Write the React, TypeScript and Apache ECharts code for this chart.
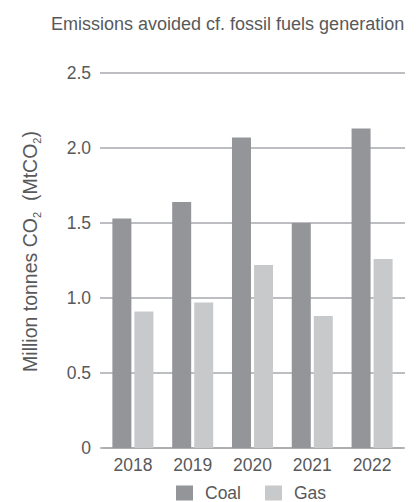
import React, { useEffect, useRef } from "react";
import * as echarts from "echarts";

const years = ["2018", "2019", "2020", "2021", "2022"];
const coal = [1.53, 1.64, 2.07, 1.5, 2.13];
const gas = [0.91, 0.97, 1.22, 0.88, 1.26];
const seriesNames = ["Coal", "Gas"];
const titleText = "Emissions avoided cf. fossil fuels generation";

const FONT = "'Liberation Sans', Arial, sans-serif";
const TEXT = "#58595b";
const GRID = "#a7a9ac";
const FS = 17.5;

export default function App() {
  const ref = useRef<HTMLDivElement>(null);
  useEffect(() => {
    if (!ref.current) return;
    const chart = echarts.init(ref.current, null, { renderer: "svg" });
    chart.setOption({
      animation: false,
      textStyle: { fontFamily: FONT },
      title: {
        text: titleText,
        left: 46,
        top: 10,
        textStyle: { fontSize: 18, fontWeight: "normal", color: TEXT, fontFamily: FONT },
      },
      legend: {
        data: seriesNames,
        left: 171,
        top: 479,
        itemWidth: 17,
        itemHeight: 15,
        itemGap: 24,
        icon: "rect",
        textStyle: { fontSize: FS, color: TEXT, fontFamily: FONT, padding: [0, 0, 0, 7] },
      },
      grid: { left: 103, right: 14, top: 73, bottom: 54 },
      xAxis: {
        type: "category",
        data: years,
        axisLine: { show: true, lineStyle: { color: GRID, width: 1.5 } },
        axisTick: { show: false },
        axisLabel: { fontSize: FS, color: TEXT, margin: 8, fontFamily: FONT },
      },
      yAxis: [
        {
          type: "value",
          min: 0,
          max: 2.5,
          interval: 0.5,
          name: "{a|Million tonnes CO}{s|2}{a|  (MtCO}{s|2}{a|)}",
          nameLocation: "middle",
          nameGap: 61,
          nameTextStyle: {
            padding: [0, 0, 0, 18],
            rich: {
              a: { fontSize: 19.5, color: TEXT, fontFamily: FONT, lineHeight: 24 },
              s: { fontSize: 11, color: TEXT, fontFamily: FONT, lineHeight: 24, verticalAlign: "bottom" },
            },
          },
          axisLine: { show: false },
          axisTick: { show: true, length: 3, lineStyle: { color: GRID, width: 1.5 } },
          splitLine: { show: true, lineStyle: { color: GRID, width: 1.5 } },
          axisLabel: {
            fontSize: FS,
            color: TEXT,
            margin: 12,
            fontFamily: FONT,
            formatter: (v: number) => (v === 0 ? "0" : v.toFixed(1)),
          },
        },
        {
          type: "value",
          position: "right",
          min: 0,
          max: 2.5,
          interval: 0.5,
          axisLine: { show: false },
          axisTick: { show: true, length: 3, lineStyle: { color: GRID, width: 1.5 } },
          splitLine: { show: false },
          axisLabel: { show: false },
        },
      ],
      series: [
        {
          name: seriesNames[0],
          type: "bar",
          data: coal,
          barWidth: 19,
          barGap: "16%",
          itemStyle: { color: "#939598" },
        },
        {
          name: seriesNames[1],
          type: "bar",
          data: gas,
          barWidth: 19,
          itemStyle: { color: "#c8c9cb" },
        },
      ],
    });
    return () => chart.dispose();
  }, []);
  return (
    <div
      ref={ref}
      style={{ position: "absolute", left: 0, top: 0, width: 416, height: 502 }}
    />
  );
}
